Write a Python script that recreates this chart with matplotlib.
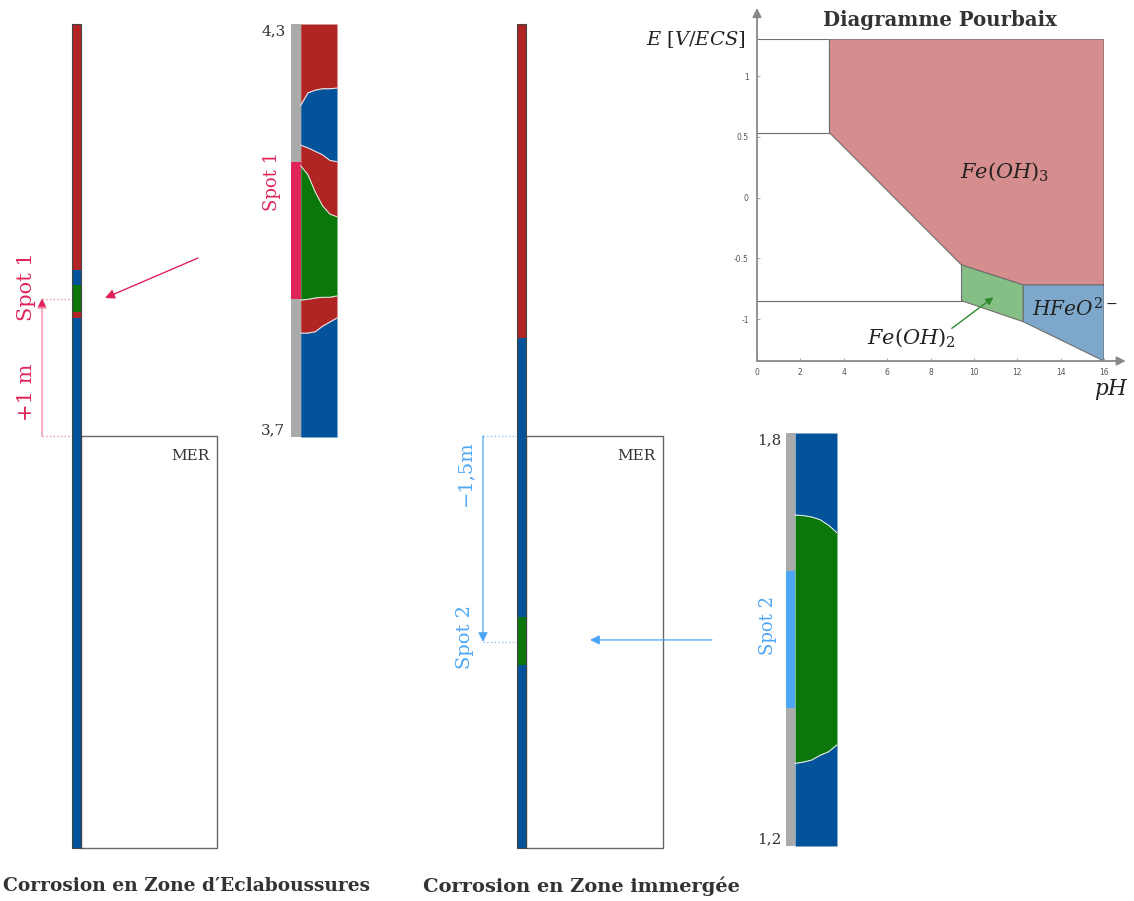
import matplotlib
matplotlib.use('Agg')
import matplotlib.pyplot as plt
from matplotlib.patches import Rectangle, Polygon

plt.rcParams['mathtext.fontset'] = 'dejavuserif'
SERIF = 'DejaVu Serif'

W, H = 1134, 901

# ---------------- colours ----------------
RED = '#b02424'
BLUE = '#02539a'
GREEN = '#0b770b'
SPOT1_C = '#e0245a'
SPOT2_C = '#4da6f5'
GREY = '#aaaaaa'

# ---------------- pile data (height from pile foot, m) ----------------
pile_top = 6.0
sea_level = 3.0
pile1_bounds = [0.0, 3.86, 3.90, 4.10, 4.21, 6.0]
pile1_colors = [BLUE, RED, GREEN, BLUE, RED]
pile2_bounds = [0.0, 1.33, 1.68, 3.71, 6.0]
pile2_colors = [BLUE, GREEN, BLUE, RED]
spot1_z = 4.0
spot2_z = 1.5
spot_half = 0.1
spot1_offset_label = '+1 m'
spot2_offset_label = '−1,5m'

# ---------------- zoom windows ----------------
zoom1_range = (3.7, 4.3)
zoom1_labels = ('3,7', '4,3')
zoom2_range = (1.2, 1.8)
zoom2_labels = ('1,2', '1,8')
zoom_x = [0.0, 0.2, 0.4, 0.6, 0.8, 1.0]
# spot 1 column: boundaries between corrosion products (top to bottom)
z1_b1 = [4.182, 4.200, 4.204, 4.206, 4.206, 4.207]
z1_b2 = [4.124, 4.120, 4.115, 4.110, 4.102, 4.100]
z1_b3 = [4.094, 4.081, 4.056, 4.036, 4.024, 4.020]
z1_b4 = [3.899, 3.900, 3.902, 3.903, 3.903, 3.905]
z1_b5 = [3.851, 3.851, 3.853, 3.861, 3.867, 3.873]
# spot 2 column: green region limits
z2_g1 = [1.681, 1.680, 1.678, 1.674, 1.666, 1.655]
z2_g2 = [1.320, 1.322, 1.325, 1.332, 1.337, 1.347]

# ---------------- Pourbaix data ----------------
ph_max = 16
E_top = 1.305
E_bot = -1.343
feoh3_ph = [3.34, 16, 16, 12.28, 9.43, 3.34]
feoh3_E = [1.305, 1.305, -0.718, -0.718, -0.553, 0.535]
feoh2_ph = [9.43, 12.28, 12.28, 9.43]
feoh2_E = [-0.553, -0.718, -1.02, -0.847]
hfeo_ph = [12.28, 16, 16, 12.28]
hfeo_E = [-0.718, -0.718, -1.343, -1.02]
line_ph_end = [3.34, 3.34, 9.43]
line_E = [1.305, 0.535, -0.847]
ph_ticks = [0, 2, 4, 6, 8, 10, 12, 14, 16]
E_ticks = [-1, -0.5, 0, 0.5, 1]
E_ticklabels = ['-1', '-0.5', '0', '0.5', '1']


def px_rect(x0, y0, x1, y1):
    return [x0 / W, 1 - y1 / H, (x1 - x0) / W, (y1 - y0) / H]


fig = plt.figure(figsize=(W / 100, H / 100), dpi=100)

# overlay in pixel coords for the captions
ov = fig.add_axes([0, 0, 1, 1])
ov.set_xlim(0, W)
ov.set_ylim(H, 0)
ov.axis('off')
ov.text(3, 886, 'Corrosion en Zone d′Eclaboussures', ha='left', va='center',
        family=SERIF, fontweight='bold', fontsize=13.4, color='#333333')
ov.text(581, 886, 'Corrosion en Zone immergée', ha='center', va='center',
        family=SERIF, fontweight='bold', fontsize=14, color='#333333')

# ---------------- scene axes (x in px, y in m) ----------------
sc = fig.add_axes(px_rect(0, 24, 760, 848))
sc.set_xlim(0, 760)
sc.set_ylim(0, pile_top)
sc.axis('off')


def draw_pile(xc, width, bounds, colors):
    for b0, b1, c in zip(bounds[:-1], bounds[1:], colors):
        sc.bar(xc, b1 - b0, bottom=b0, width=width, color=c, edgecolor='none',
               clip_on=False, zorder=3)
    sc.add_patch(Rectangle((xc - width / 2, bounds[0]), width, bounds[-1] - bounds[0],
                           fill=False, edgecolor='#444444', lw=0.8, clip_on=False, zorder=4))


draw_pile(76.3, 8.6, pile1_bounds, pile1_colors)
draw_pile(521.2, 9.0, pile2_bounds, pile2_colors)

# sea boxes
for x0, x1 in [(80.6, 217), (525.7, 663)]:
    sc.add_patch(Rectangle((x0, 0), x1 - x0, sea_level, fill=False,
                           edgecolor='#666666', lw=1.0, zorder=2, clip_on=False))
    sc.text(x1 - 8, 2.855, 'MER', ha='right', va='center', family=SERIF,
            fontsize=11, color='#333333')

# spot 1 markers
PINK_L = '#f28aa6'
sc.plot([42, 72], [spot1_z, spot1_z], ls=':', color=PINK_L, lw=1.0)
sc.plot([42, 72], [sea_level, sea_level], ls=':', color=PINK_L, lw=1.0)
sc.annotate('', xy=(42, spot1_z), xytext=(42, sea_level),
            arrowprops=dict(arrowstyle='-|>', color=PINK_L, lw=1.0,
                            mutation_scale=14, shrinkA=0, shrinkB=0))
sc.annotate('', xy=(42, spot1_z), xytext=(42, spot1_z - 0.05),
            arrowprops=dict(arrowstyle='-|>', color=SPOT1_C, lw=0.1,
                            mutation_scale=14, shrinkA=0, shrinkB=0))
sc.annotate('', xy=(105, 4.005), xytext=(198, 4.296),
            arrowprops=dict(arrowstyle='-|>', color=SPOT1_C, lw=1.0,
                            mutation_scale=14, shrinkA=0, shrinkB=0))
sc.text(27, 4.085, 'Spot 1', rotation=90, ha='center', va='center',
        family=SERIF, fontsize=15, color=SPOT1_C)
sc.text(27, 3.32, spot1_offset_label, rotation=90, ha='center', va='center',
        family=SERIF, fontsize=15, color=SPOT1_C)

# spot 2 markers
BLUE_L = '#8cc4f8'
sc.plot([483, 517], [spot2_z, spot2_z], ls=':', color=BLUE_L, lw=1.0)
sc.plot([483, 517], [sea_level, sea_level], ls=':', color=BLUE_L, lw=1.0)
sc.annotate('', xy=(483, spot2_z), xytext=(483, sea_level),
            arrowprops=dict(arrowstyle='-|>', color=SPOT2_C, lw=0.9,
                            mutation_scale=14, shrinkA=0, shrinkB=0))
sc.annotate('', xy=(590, spot2_z + 0.015), xytext=(712, spot2_z + 0.015),
            arrowprops=dict(arrowstyle='-|>', color=SPOT2_C, lw=0.9,
                            mutation_scale=14, shrinkA=0, shrinkB=0))
sc.text(465, 2.73, spot2_offset_label, rotation=90, ha='center', va='center',
        family=SERIF, fontsize=14, color=SPOT2_C)
sc.text(465, 1.536, 'Spot 2', rotation=90, ha='center', va='center',
        family=SERIF, fontsize=14, color=SPOT2_C)


# ---------------- zoom columns ----------------
def zoom_axes(rect, zr, grey_w):
    ax = fig.add_axes(rect)
    ax.set_xlim(-grey_w, 1)
    ax.set_ylim(*zr)
    ax.axis('off')
    ax.add_patch(Rectangle((-grey_w, zr[0]), grey_w, zr[1] - zr[0], color=GREY, lw=0))
    return ax


z1 = zoom_axes(px_rect(291, 24, 337, 437), zoom1_range, 0.267)
top1 = [zoom1_range[1]] * len(zoom_x)
bot1 = [zoom1_range[0]] * len(zoom_x)
layers1 = [(z1_b1, top1, RED), (z1_b2, z1_b1, BLUE), (z1_b3, z1_b2, RED),
           (z1_b4, z1_b3, GREEN), (z1_b5, z1_b4, RED), (bot1, z1_b5, BLUE)]
for lo, hi, c in layers1:
    z1.fill_between(zoom_x, lo, hi, color=c, lw=0)
for b in (z1_b1, z1_b2, z1_b3, z1_b4, z1_b5):
    z1.plot(zoom_x, b, color='#f2f2f2', lw=0.7)
z1.add_patch(Rectangle((-0.267, spot1_z - spot_half), 0.267, 2 * spot_half,
                       color=SPOT1_C, lw=0))
z1.text(-0.42, zoom1_range[1], zoom1_labels[1], ha='right', va='top',
        family=SERIF, fontsize=11, color='#333333')
z1.text(-0.42, zoom1_range[0], zoom1_labels[0], ha='right', va='bottom',
        family=SERIF, fontsize=11, color='#333333')
z1.text(-0.8, 4.072, 'Spot 1', rotation=90, ha='center', va='center',
        family=SERIF, fontsize=13, color=SPOT1_C)

z2 = zoom_axes(px_rect(786, 433, 837, 846), zoom2_range, 0.214)
top2 = [zoom2_range[1]] * len(zoom_x)
bot2 = [zoom2_range[0]] * len(zoom_x)
layers2 = [(z2_g1, top2, BLUE), (z2_g2, z2_g1, GREEN), (bot2, z2_g2, BLUE)]
for lo, hi, c in layers2:
    z2.fill_between(zoom_x, lo, hi, color=c, lw=0)
for b in (z2_g1, z2_g2):
    z2.plot(zoom_x, b, color='#f2f2f2', lw=0.7)
z2.add_patch(Rectangle((-0.214, spot2_z - spot_half), 0.214, 2 * spot_half,
                       color=SPOT2_C, lw=0))
z2.text(-0.33, zoom2_range[1], zoom2_labels[1], ha='right', va='top',
        family=SERIF, fontsize=11, color='#333333')
z2.text(-0.33, zoom2_range[0], zoom2_labels[0], ha='right', va='bottom',
        family=SERIF, fontsize=11, color='#333333')
z2.text(-0.65, 1.52, 'Spot 2', rotation=90, ha='center', va='center',
        family=SERIF, fontsize=13, color=SPOT2_C)

# ---------------- Pourbaix diagram ----------------
pb = fig.add_axes(px_rect(757, 39, 1104, 361))
pb.set_xlim(0, ph_max)
pb.set_ylim(E_bot, E_top)
for s in pb.spines.values():
    s.set_visible(False)
EDGE = '#6e6e6e'
pb.add_patch(Polygon(list(zip(feoh3_ph, feoh3_E)), closed=True, facecolor='#d68d8d',
                     edgecolor=EDGE, lw=0.8, zorder=2))
pb.add_patch(Polygon(list(zip(feoh2_ph, feoh2_E)), closed=True, facecolor='#86bf86',
                     edgecolor=EDGE, lw=0.8, zorder=2))
pb.add_patch(Polygon(list(zip(hfeo_ph, hfeo_E)), closed=True, facecolor='#7da8cc',
                     edgecolor=EDGE, lw=0.8, zorder=2))
for xe, e in zip(line_ph_end, line_E):
    pb.plot([0, xe], [e, e], color=EDGE, lw=0.8, zorder=2)
AX_C = '#888888'
pb.annotate('', xy=(0, 1.56), xytext=(0, E_bot), annotation_clip=False,
            arrowprops=dict(arrowstyle='-|>', color=AX_C, lw=1.3,
                            mutation_scale=13, shrinkA=0, shrinkB=0))
pb.annotate('', xy=(17.0, E_bot), xytext=(0, E_bot), annotation_clip=False,
            arrowprops=dict(arrowstyle='-|>', color=AX_C, lw=1.3,
                            mutation_scale=13, shrinkA=0, shrinkB=0))
pb.set_xticks(ph_ticks)
pb.set_xticklabels([str(t) for t in ph_ticks])
pb.set_yticks(E_ticks)
pb.set_yticklabels(E_ticklabels)
pb.tick_params(axis='both', direction='in', length=2, width=0.6, color='#999999',
               labelsize=5.5, labelcolor='#555555')
pb.tick_params(axis='x', pad=5)
pb.tick_params(axis='y', pad=6)
pb.text(8.44, 1.461, 'Diagramme Pourbaix', ha='center', va='center', family=SERIF,
        fontweight='bold', fontsize=14.2, color='#333333')
pb.text(-0.55, 1.297, r'$E\ [V/ECS]$', ha='right', va='center', fontsize=14,
        color='#222222')
pb.text(16.32, -1.58, r'$pH$', ha='center', va='center', fontsize=15.5, color='#222222')
pb.text(11.43, 0.214, r'$Fe(OH)_3$', ha='center', va='center', fontsize=15,
        color='#222222', zorder=3)
pb.text(14.66, -0.915, r'$HFeO^{2-}$', ha='center', va='center', fontsize=14.5,
        color='#222222', zorder=3, clip_on=False)
pb.text(7.1, -1.154, r'$Fe(OH)_2$', ha='center', va='center', fontsize=15,
        color='#222222', zorder=3)
pb.annotate('', xy=(10.9, -0.819), xytext=(8.98, -1.075),
            arrowprops=dict(arrowstyle='-|>', color='#2e8b2e', lw=1.0,
                            mutation_scale=11, shrinkA=0, shrinkB=0), zorder=4)

fig.savefig('out.png', dpi=100)
